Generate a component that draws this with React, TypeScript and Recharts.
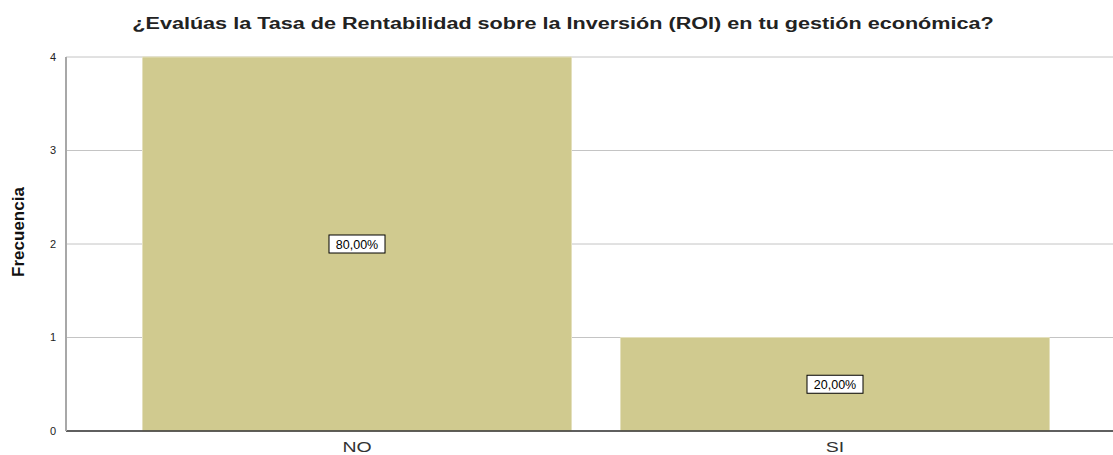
import React from 'react';
import { BarChart, Bar, XAxis, YAxis, CartesianGrid, LabelList } from 'recharts';

const categories = ['NO', 'SI'];
const frequencies = [4, 1];
const percentLabels = ['80,00%', '20,00%'];
const yTicks = [0, 1, 2, 3, 4];

const data = categories.map((name, i) => ({
  name,
  value: frequencies[i],
  pct: percentLabels[i],
}));

const BoxLabel = (props: any) => {
  const { x, y, width, height, value } = props;
  const cx = x + width / 2;
  const cy = y + height / 2;
  const w = 56;
  const h = 18;
  return (
    <g>
      <rect x={cx - w / 2} y={cy - h / 2} width={w} height={h} fill="#ffffff" stroke="#000000" strokeWidth={1} />
      <text x={cx} y={cy + 4.5} textAnchor="middle" fontSize={12.5} fontFamily="Liberation Sans, Arial, sans-serif" fill="#000">
        {value}
      </text>
    </g>
  );
};

const CatTick = (props: any) => {
  const { x, y, payload } = props;
  return (
    <text
      x={0}
      y={0}
      transform={`translate(${x},${y + 13}) scale(1.3,1)`}
      textAnchor="middle"
      fontSize={15}
      fill="#333"
      fontFamily="Liberation Sans, Arial, sans-serif"
    >
      {payload.value}
    </text>
  );
};

const App: React.FC = () => {
  return (
    <div style={{ position: 'absolute', left: 0, top: 0, width: 1113, height: 455, background: '#fff' }}>
      <div
        style={{
          position: 'absolute',
          left: 563 - 500,
          top: 15,
          width: 1000,
          textAlign: 'center',
          fontFamily: 'Liberation Sans, Arial, sans-serif',
          fontWeight: 'bold',
          fontSize: 16,
          color: '#222',
          transform: 'scaleX(1.35)',
          transformOrigin: 'center',
          whiteSpace: 'nowrap',
        }}
      >
        ¿Evalúas la Tasa de Rentabilidad sobre la Inversión (ROI) en tu gestión económica?
      </div>
      <div
        style={{
          position: 'absolute',
          left: 19,
          top: 232,
          transform: 'translate(-50%, -50%) rotate(-90deg)',
          fontFamily: 'Liberation Sans Narrow, Arial Narrow, Liberation Sans, sans-serif',
          fontWeight: 'bold',
          fontSize: 17,
          color: '#111',
          whiteSpace: 'nowrap',
        }}
      >
        Frecuencia
      </div>
      <BarChart
        width={1113}
        height={455}
        data={data}
        margin={{ top: 57, right: 0, bottom: 0, left: 6 }}
        barCategoryGap={24.5}
      >
        <CartesianGrid vertical={false} stroke="#c4c4c4" strokeWidth={1} />
        <XAxis
          dataKey="name"
          tickLine={false}
          axisLine={{ stroke: '#333', strokeWidth: 1.5 }}
          padding={{ left: 52, right: 39 }}
          tick={<CatTick />}
          height={24}
        />
        <YAxis
          domain={[0, 4]}
          ticks={yTicks}
          tickLine={false}
          axisLine={{ stroke: '#a8a8a8', strokeWidth: 2 }}
          width={60}
          tick={{ fontSize: 11, fill: '#222', fontFamily: 'Liberation Sans, Arial, sans-serif' }}
          tickMargin={4}
        />
        <Bar dataKey="value" fill="#d0ca8f" stroke="#e4e0bd" strokeWidth={1} isAnimationActive={false}>
          <LabelList dataKey="pct" content={BoxLabel} />
        </Bar>
      </BarChart>
    </div>
  );
};

export default App;
